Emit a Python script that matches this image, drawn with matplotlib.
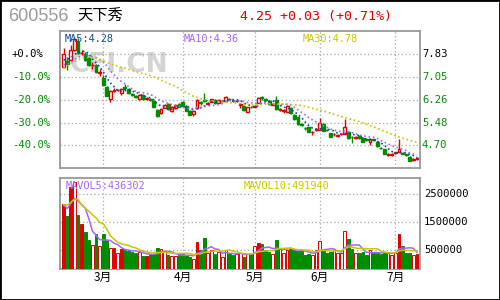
import matplotlib
matplotlib.use('Agg')
import matplotlib.pyplot as plt
import matplotlib.transforms as mtransforms
from matplotlib.patches import Rectangle
import numpy as np

# daily prices, one entry per session (mid Feb -> early Jul)
opens = [7.40, 7.60, 7.63, 7.99, 8.26, 7.86, 7.84, 7.69, 7.45, 7.46,
         7.19, 7.02, 6.71, 6.28, 6.58, 6.59, 6.51, 6.70, 6.63, 6.45,
         6.40, 6.28, 6.43, 6.30, 6.28, 6.23, 5.91, 5.80, 5.99, 6.12,
         5.89, 5.97, 6.12, 6.20, 6.05, 5.89, 5.76, 5.97, 6.17, 6.24,
         6.12, 6.20, 6.26, 6.16, 6.21, 6.23, 6.30, 6.24, 6.21, 6.10,
         6.05, 5.86, 6.03, 6.03, 6.16, 6.35, 6.28, 6.22, 6.10, 6.26,
         5.92, 5.89, 5.85, 5.97, 5.74, 5.66, 5.42, 5.30, 5.31, 5.15,
         5.23, 5.23, 5.42, 5.24, 5.11, 5.07, 5.03, 5.07, 5.09, 5.17,
         4.99, 4.95, 5.02, 4.96, 4.90, 4.82, 4.90, 4.82, 4.61, 4.56,
         4.36, 4.37, 4.43, 4.48, 4.43, 4.38, 4.30, 4.20, 4.23]
highs = [8.04, 7.75, 8.15, 8.42, 8.40, 7.98, 7.90, 7.72, 7.57, 7.50,
         7.31, 7.10, 6.75, 6.60, 6.66, 6.64, 6.68, 6.80, 6.66, 6.48,
         6.43, 6.45, 6.46, 6.36, 6.31, 6.25, 5.93, 5.97, 6.12, 6.14,
         6.05, 6.11, 6.14, 6.22, 6.07, 5.91, 5.90, 6.28, 6.22, 6.49,
         6.18, 6.30, 6.28, 6.28, 6.26, 6.39, 6.33, 6.27, 6.26, 6.14,
         6.07, 6.02, 6.06, 6.08, 6.35, 6.40, 6.31, 6.24, 6.15, 6.39,
         5.97, 5.94, 6.07, 6.00, 5.76, 5.68, 5.46, 5.33, 5.33, 5.20,
         5.28, 5.63, 5.45, 5.27, 5.13, 5.12, 5.09, 5.12, 5.59, 5.20,
         5.02, 5.00, 5.05, 4.98, 4.94, 4.93, 4.93, 4.84, 4.64, 4.58,
         4.42, 4.43, 4.48, 4.90, 4.47, 4.41, 4.33, 4.25, 4.28]
lows = [7.36, 7.29, 7.60, 7.95, 7.85, 7.80, 7.60, 7.42, 7.31, 7.20,
        7.08, 6.75, 6.38, 6.20, 6.52, 6.55, 6.43, 6.55, 6.47, 6.40,
        6.34, 6.26, 6.26, 6.27, 6.22, 6.01, 5.66, 5.76, 5.97, 5.92,
        5.86, 5.95, 6.01, 6.03, 5.87, 5.73, 5.72, 5.95, 6.10, 6.17,
        6.08, 6.18, 6.12, 6.14, 6.18, 6.21, 6.25, 6.19, 6.18, 5.99,
        5.89, 5.84, 5.98, 6.00, 6.14, 6.27, 6.22, 6.10, 6.07, 5.92,
        5.89, 5.82, 5.83, 5.78, 5.57, 5.41, 5.36, 5.24, 5.15, 5.05,
        5.20, 5.21, 5.18, 5.19, 4.97, 5.03, 4.98, 5.04, 5.07, 4.92,
        4.79, 4.92, 4.93, 4.80, 4.85, 4.71, 4.85, 4.65, 4.56, 4.38,
        4.33, 4.33, 4.40, 4.46, 4.38, 4.33, 4.14, 4.15, 4.19]
closes = [7.83, 7.49, 7.99, 8.35, 7.88, 7.88, 7.63, 7.46, 7.47, 7.23,
          7.21, 6.77, 6.40, 6.58, 6.60, 6.60, 6.64, 6.66, 6.49, 6.43,
          6.37, 6.43, 6.28, 6.32, 6.26, 6.03, 5.71, 5.94, 6.09, 5.94,
          6.03, 6.09, 6.03, 6.05, 5.89, 5.75, 5.88, 6.26, 6.14, 6.22,
          6.14, 6.28, 6.14, 6.26, 6.23, 6.35, 6.28, 6.22, 6.23, 6.12,
          5.91, 6.00, 6.01, 6.05, 6.33, 6.33, 6.26, 6.12, 6.12, 5.94,
          5.94, 5.91, 6.05, 5.80, 5.59, 5.43, 5.40, 5.28, 5.17, 5.17,
          5.25, 5.46, 5.20, 5.22, 4.99, 5.09, 5.05, 5.09, 5.32, 4.94,
          4.97, 4.97, 4.95, 4.82, 4.88, 4.91, 4.88, 4.67, 4.59, 4.40,
          4.38, 4.39, 4.45, 4.58, 4.41, 4.36, 4.16, 4.22, 4.25]
# volume in millions of shares
volumes_m = [2.14, 1.73, 2.77, 2.94, 1.76, 1.45, 1.15, 0.87, 0.69, 1.07,
             0.65, 1.09, 0.87, 0.59, 0.59, 0.41, 0.56, 0.52, 0.49, 0.45,
             0.40, 0.45, 0.32, 0.30, 0.36, 0.39, 0.59, 0.56, 0.47, 0.33,
             0.30, 0.30, 0.36, 0.36, 0.33, 0.28, 0.21, 0.81, 0.51, 0.93,
             0.42, 0.51, 0.39, 0.45, 0.25, 0.53, 0.39, 0.33, 0.39, 0.42,
             0.25, 0.39, 0.39, 0.65, 0.77, 0.72, 0.51, 0.45, 0.39, 0.87,
             0.57, 0.42, 0.51, 0.57, 0.51, 0.47, 0.51, 0.33, 0.39, 0.33,
             0.53, 0.83, 0.57, 0.42, 0.45, 0.51, 0.42, 0.42, 1.19, 0.90,
             0.55, 0.42, 0.42, 0.45, 0.33, 0.51, 0.42, 0.42, 0.37, 0.46,
             0.42, 0.34, 0.42, 1.10, 0.66, 0.40, 0.40, 0.33, 0.39]
# red volume bars drawn solid instead of hollow
vol_solid = [0, 2, 5, 14, 16, 23, 37, 54, 93, 98]

# sessions before the window, only used for the moving averages
pre_closes = [5.50, 5.70, 5.90, 6.05, 6.25, 6.80, 7.30, 7.60, 8.00, 8.30,
              8.20, 8.20, 8.00, 7.90, 7.80, 7.70, 7.60, 7.70, 7.60, 7.66,
              7.50, 7.30, 7.20, 7.30, 7.30, 7.34, 7.80, 7.75, 7.45]
pre_volumes_m = [1.8, 1.8, 1.8, 1.8, 3.4, 2.4, 1.9, 2.0, 2.2]

month_labels = ['3月', '4月', '5月', '6月', '7月']
month_start = [11, 33, 53, 71, 92]

code, name = '600556', '天下秀'
quote = '4.25 +0.03 (+0.71%)'
ma_text = ['MA5:4.28', 'MA10:4.36', 'MA30:4.78']
mavol_text = ['MAVOL5:436302', 'MAVOL10:491940']

RED = '#e00000'
GREEN = '#008c00'
GRID = '#a8a8a8'
FRAME = '#999999'
MONO = ['DejaVu Sans Mono']
CJK = ['Noto Sans CJK SC', 'DejaVu Sans']

o = np.array(opens); h = np.array(highs); l = np.array(lows); c = np.array(closes)
vol = np.array(volumes_m) * 1e6
x = np.arange(len(c))
down = c < o


def moving_avg(pre, vals, n):
    full = np.concatenate([pre, vals])
    k = len(pre)
    return np.array([full[i - n + 1:i + 1].mean() for i in range(k, len(full))])


fig = plt.figure(figsize=(5, 3), dpi=100)
ax1 = fig.add_axes([0.12, 0.44, 0.72, 0.4567])
ax2 = fig.add_axes([0.12, 0.1033, 0.72, 0.3023])

for ax in (ax1, ax2):
    for s in ax.spines.values():
        s.set_color(FRAME)
        s.set_linewidth(1.3)
    ax.set_xlim(-1.0, 98.85)
    ax.tick_params(length=0)
    ax.set_xticks(month_start)
    ax.grid(True, linestyle=(0, (1, 2)), color=GRID, linewidth=0.9)
    ax.set_axisbelow(True)

# ---- price panel
base = c[0]
ax1.set_ylim(base * 0.50, base * 1.1024)
levels = base * (1 - 0.1 * np.arange(5))
ax1.set_yticks(levels)
ax1.set_yticklabels([])
ax1.set_xticklabels([])

ax1.text(0.14, 0.783, 'CFI.CN', transform=fig.transFigure, fontsize=19,
         fontweight='bold', color='#d4d4d4', family='DejaVu Sans',
         va='center', ha='left', zorder=0)

cols = np.where(down, GREEN, RED)
ax1.vlines(x, l, h, color=cols, linewidth=1, zorder=2)
body_lo = np.minimum(o, c)
body_h = np.maximum(np.abs(c - o), 0.004)
ax1.bar(x, body_h, bottom=body_lo, width=0.78,
        color=np.where(down, GREEN, 'white'), edgecolor=cols,
        linewidth=1, zorder=3)

ma_cols = ['#0a4c9c', '#a366ff', '#c8c800']
for n, col in zip([5, 10, 30], ma_cols):
    ax1.plot(x, moving_avg(pre_closes, c, n), color=col,
             linestyle=(0, (1, 1.6)), linewidth=1.2, zorder=4)

yx1 = mtransforms.blended_transform_factory(fig.transFigure, ax1.transData)
for i, lv in enumerate(levels):
    pct = (lv / base - 1) * 100
    txt = '+0.0%' if i == 0 else f'{pct:.1f}%'
    col = 'black' if i == 0 else GREEN
    ax1.text(0.024, lv, txt, transform=yx1, family=MONO, fontsize=7.6,
             color=col, va='center', ha='left')
    ax1.text(0.844, lv, f'{lv:.2f}', transform=yx1, family=MONO,
             fontsize=7.6, color=col, va='center', ha='left')

for xf, t, col in zip([0.13, 0.367, 0.605], ma_text, ma_cols):
    fig.text(xf, 0.871, t, family=MONO, fontsize=7.4, color=col,
             va='center', ha='left')

# ---- volume panel
vbot = -0.16e6
ax2.set_ylim(vbot, 3.07e6)
vticks = [2.5e6, 1.5e6, 0.5e6]
ax2.set_yticks(vticks)
ax2.set_yticklabels([])
solid = np.isin(x, vol_solid)
face = np.where(down, GREEN, np.where(solid, RED, 'white'))
ax2.bar(x, vol - vbot, bottom=vbot, width=0.74, color=face,
        edgecolor=cols, linewidth=0.7, zorder=3)
ax2.plot(x, moving_avg(np.array(pre_volumes_m) * 1e6, vol, 5),
         color='#a366ff', linewidth=1.1, zorder=4)
ax2.plot(x, moving_avg(np.array(pre_volumes_m) * 1e6, vol, 10),
         color='#c8c800', linewidth=1.1, zorder=4)

yx2 = mtransforms.blended_transform_factory(fig.transFigure, ax2.transData)
for v in vticks:
    ax2.text(0.848, v, f'{int(v)}', transform=yx2, family=MONO,
             fontsize=7.6, color='black', va='center', ha='left')

ax2.set_xticklabels(month_labels, family=CJK, fontsize=8.5)
ax2.tick_params(axis='x', pad=1.5)

fig.text(0.131, 0.38, mavol_text[0], family=MONO, fontsize=7.4,
         color='#a366ff', va='center', ha='left')
fig.text(0.487, 0.38, mavol_text[1], family=MONO, fontsize=7.4,
         color='#c8c800', va='center', ha='left')

# ---- header
fig.text(0.016, 0.944, code, family=['Liberation Sans'], fontsize=13,
         color='#9a9a9a', va='center', ha='left')
fig.text(0.154, 0.944, name, family=CJK, fontsize=11, color='black',
         va='center', ha='left')
fig.text(0.48, 0.944, quote, family=MONO, fontsize=9.6, color=RED,
         va='center', ha='left')

fig.patches.append(Rectangle((0, 0), 1, 1, transform=fig.transFigure,
                             fill=False, edgecolor='black', linewidth=2))

fig.savefig('out.png', dpi=100)
